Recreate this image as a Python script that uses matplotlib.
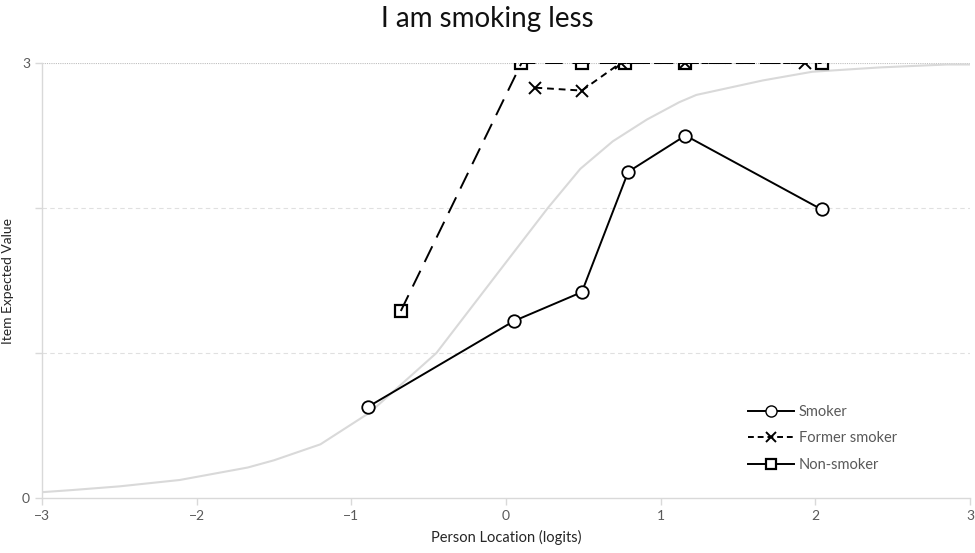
import matplotlib.pyplot as plt
from matplotlib.lines import Line2D

# expected value curve
curve_x = [-3.0, -2.8, -2.5, -2.11, -1.67, -1.5, -1.2, -0.88, -0.45, -0.04,
           0.27, 0.48, 0.69, 0.91, 1.12, 1.23, 1.66, 1.98, 2.42, 2.85, 3.0]
curve_y = [0.04, 0.055, 0.08, 0.124, 0.21, 0.26, 0.37, 0.59, 1.0, 1.57,
           2.0, 2.27, 2.46, 2.61, 2.73, 2.78, 2.88, 2.94, 2.97, 2.99, 2.99]

smoker_x = [-0.89, 0.05, 0.49, 0.79, 1.16, 2.04]
smoker_y = [0.63, 1.22, 1.42, 2.25, 2.50, 1.99]

former_x = [0.19, 0.49, 0.74, 1.16, 1.93]
former_y = [2.83, 2.81, 3.0, 3.0, 3.0]

non_x = [-0.68, 0.10, 0.49, 0.77, 1.16, 2.04]
non_y = [1.29, 3.0, 3.0, 3.0, 3.0, 3.0]

x_ticks = [-3, -2, -1, 0, 1, 2, 3]
y_ticks = [0, 1, 2, 3]
y_labels = ['0', '', '', '3']

plt.rcParams['font.family'] = ['Lato', 'DejaVu Sans']

fig = plt.figure(figsize=(9.75, 5.53), dpi=100)
ax = fig.add_axes([0.043, 0.0995, 0.952, 0.7865])

ax.plot(curve_x, curve_y, color='#d9d9d9', lw=1.5, zorder=1)

ax.plot(smoker_x, smoker_y, color='black', lw=1.4, marker='o', ms=9,
        mfc='white', mec='black', mew=1.3, label='Smoker', zorder=3)
ax.plot(former_x, former_y, color='black', lw=1.4, ls=(0, (3.5, 2.5)),
        marker='x', ms=8, mew=1.4, label='Former smoker', zorder=4)
ax.plot(non_x, non_y, color='black', lw=1.4, ls=(0, (9, 5)),
        marker='s', ms=8, mfc='none', mec='black', mew=1.6,
        label='Non-smoker', zorder=3)

ax.set_xlim(-3, 3)
ax.set_ylim(0, 3)
ax.set_xticks(x_ticks)
ax.set_yticks(y_ticks)
ax.set_yticklabels(y_labels)

for y in [1, 2]:
    ax.axhline(y, color='#e0e0e0', lw=0.8, ls=(0, (4, 3)), zorder=0)
ax.axhline(3, color='#bfbfbf', lw=0.8, ls=(0, (1, 1)), zorder=0)

for side in ['top', 'right']:
    ax.spines[side].set_visible(False)
for side in ['left', 'bottom']:
    ax.spines[side].set_color('#d9d9d9')
    ax.spines[side].set_linewidth(1.0)
ax.tick_params(colors='#595959', labelsize=10, length=5, width=1.0)
ax.tick_params(axis='both', color='#d9d9d9')

ax.set_xlabel('Person Location (logits)', fontsize=10.5, color='#262626',
              labelpad=6)
ax.set_ylabel('Item Expected Value', fontsize=10, color='#262626',
              labelpad=6)
fig.suptitle('I am smoking less', fontsize=20, color='#111111', y=0.99)

handles = [
    Line2D([], [], color='black', lw=1.4, marker='o', ms=8, mfc='white'),
    Line2D([], [], color='black', lw=1.4, ls=(0, (3, 2)), marker='x',
           ms=7, mew=1.4),
    Line2D([], [], color='black', lw=1.4, marker='s', ms=7, mfc='white',
           mew=1.6),
]
leg = ax.legend(handles, ['Smoker', 'Former smoker', 'Non-smoker'],
                loc='lower right', bbox_to_anchor=(0.935, 0.03),
                frameon=False, fontsize=10.5, handlelength=3.2,
                handletextpad=0.3, labelspacing=0.85)
for t in leg.get_texts():
    t.set_color('#595959')

fig.savefig('out.png', dpi=100)
